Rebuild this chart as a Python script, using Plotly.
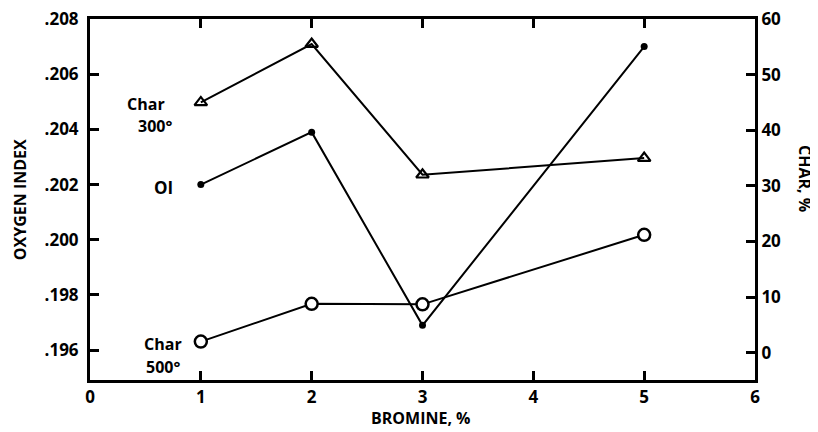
import plotly.graph_objects as go

bromine = [1, 2, 3, 5]
oxygen_index = [0.2020, 0.2039, 0.1969, 0.2070]
char_300 = [45, 55.5, 32, 35]
char_500 = [2, 8.8, 8.7, 21.2]

x_ticks = [0, 1, 2, 3, 4, 5, 6]
oi_ticks = [0.196, 0.198, 0.200, 0.202, 0.204, 0.206, 0.208]
oi_ticklabels = [".196", ".198", ".200", ".202", ".204", ".206", ".208"]
char_ticks = [0, 10, 20, 30, 40, 50, 60]

FONT = "Open Sans"
fig = go.Figure()
fig.add_trace(go.Scatter(x=bromine, y=oxygen_index, mode="lines+markers",
                         line=dict(color="black", width=2),
                         marker=dict(symbol="circle", size=7, color="black"),
                         yaxis="y", showlegend=False))
fig.add_trace(go.Scatter(x=bromine, y=char_300, mode="lines+markers",
                         line=dict(color="black", width=2),
                         marker=dict(symbol="triangle-up-open", size=11, color="black",
                                     line=dict(width=2.2)),
                         yaxis="y2", showlegend=False))
fig.add_trace(go.Scatter(x=bromine, y=char_500, mode="lines+markers",
                         line=dict(color="black", width=2),
                         marker=dict(symbol="circle", size=12, color="white",
                                     line=dict(width=2.5, color="black")),
                         yaxis="y2", showlegend=False))

axis_common = dict(showgrid=False, zeroline=False, showline=True, linecolor="black",
                   linewidth=3, ticks="inside", ticklen=9, tickwidth=2.5, tickcolor="black",
                   automargin=False, ticklabeloverflow="allow",
                   tickfont=dict(family=FONT, size=17, color="black", weight="bold"))

# the page body has an 8px default margin; compensate so the plot frame lands
# at x 90..755, y 19..380 in the window
fig.update_layout(
    width=818, height=432,
    margin=dict(l=82, r=71, t=11, b=60),
    paper_bgcolor="white", plot_bgcolor="white",
    font=dict(family=FONT, color="black"),
    xaxis=dict(range=[0, 6], tickvals=x_ticks, ticktext=[str(v) for v in x_ticks],
               mirror="ticks", **axis_common),
    yaxis=dict(range=[0.19492, 0.208], tickvals=oi_ticks, ticktext=oi_ticklabels,
               ticklabelstandoff=5, **axis_common),
    yaxis2=dict(range=[-4.9, 60], tickvals=char_ticks, ticktext=[str(v) for v in char_ticks],
                overlaying="y", side="right", **axis_common),
)

def label(text, x, y, ref="data", angle=0, size=16):
    fig.add_annotation(text=text, x=x, y=y,
                       xref="x" if ref == "data" else "paper",
                       yref="y" if ref == "data" else "paper",
                       showarrow=False, textangle=angle,
                       font=dict(family=FONT, size=size, color="black", weight="bold"),
                       xanchor="center", yanchor="middle")

label("Char", 0.505, 0.20493)
label("300°", 0.587, 0.20414)
label("OI", 0.659, 0.2019, size=17)
label("Char", 0.659, 0.19623)
label("500°", 0.659, 0.19540)

label("OXYGEN INDEX", -0.105, 0.4986, ref="paper", angle=-90, size=16)
label("CHAR, %", 1.0752, 0.5596, ref="paper", angle=90, size=16)
label("BROMINE, %", 0.498, -0.105, ref="paper", size=16)

fig.write_html("out.html")
